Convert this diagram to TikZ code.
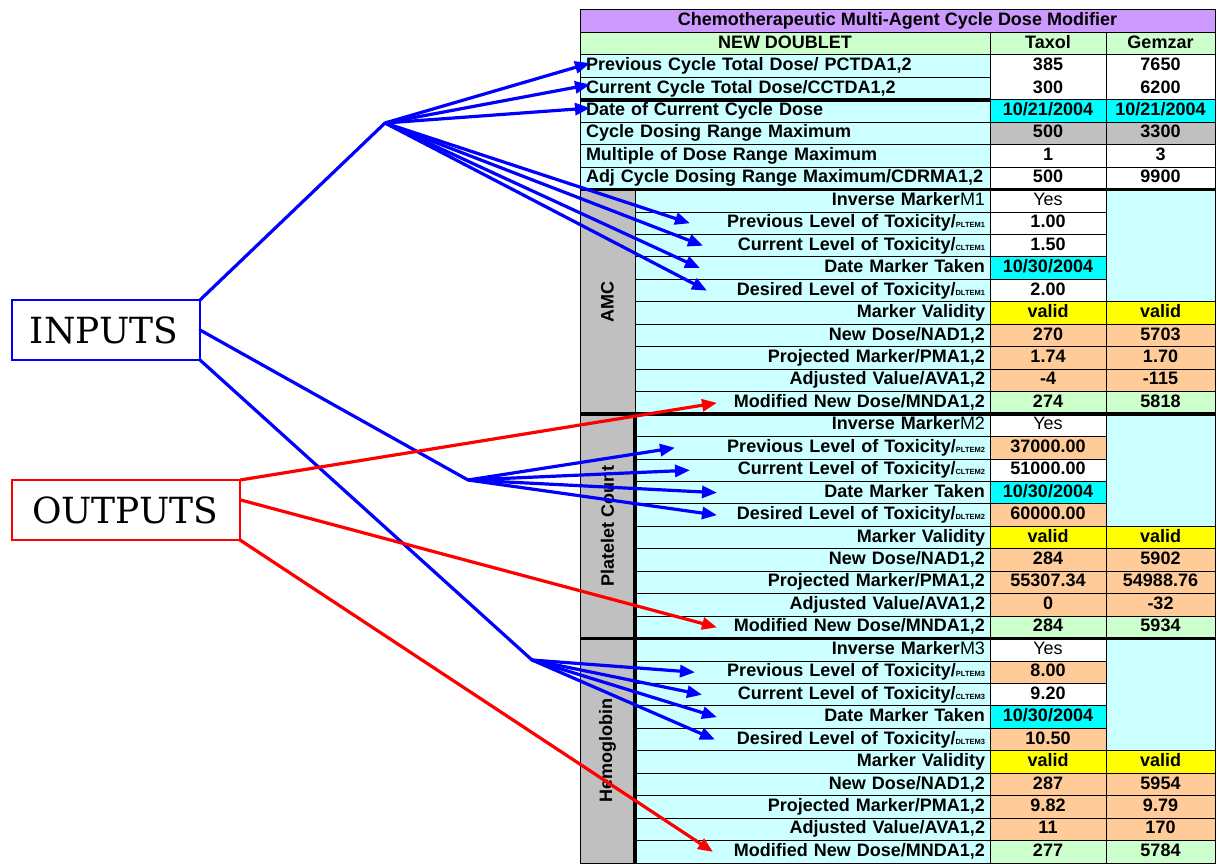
\documentclass[tikz,border=0pt]{standalone}
\usepackage{fontspec}
\newfontfamily\tabfam{Liberation Sans}
\newfontfamily\boxfam{DejaVu Serif}
\usetikzlibrary{positioning,arrows.meta,calc}
\definecolor{ttlpurple}{RGB}{204,153,255}
\definecolor{hdgreen}{RGB}{204,255,204}
\definecolor{lcyan}{RGB}{204,255,255}
\definecolor{dcyan}{RGB}{0,255,255}
\definecolor{cgrey}{RGB}{192,192,192}
\definecolor{peach}{RGB}{255,204,153}
\definecolor{vyellow}{RGB}{255,255,0}
\definecolor{inblue}{RGB}{0,0,255}
\definecolor{outred}{RGB}{255,0,0}
\newcommand{\tabbf}{\tabfam\bfseries\fontsize{18}{20}\selectfont}
\newcommand{\tabrg}{\tabfam\mdseries\fontsize{18}{20}\selectfont}
\newcommand{\subtag}[1]{{\tabfam\bfseries\fontsize{7.5}{7.5}\selectfont #1}}
\tikzset{
  cell/.style={draw=black,line width=1pt,inner sep=0pt,outer sep=0pt,anchor=north west,
               minimum height=22.45pt,text height=13pt,text depth=4pt,font=\tabbf},
  ulab/.style={cell,fill=lcyan,inner xsep=6pt,text width=398pt,align=left},
  slab/.style={cell,fill=lcyan,inner xsep=5pt,text width=345pt,align=right},
  txc/.style={cell,minimum width=116pt},
  gzc/.style={cell,minimum width=109pt},
  valtxt/.style={inner sep=0pt,text height=13pt,text depth=4pt,font=\tabbf},
  thk/.style={line width=3.5pt},
  iobox/.style={line width=2pt,anchor=north west,outer sep=0pt,minimum height=60pt,
                align=left,font=\boxfam\fontsize{36}{40}\selectfont},
  inln/.style={line width=3.2pt,draw=inblue,line cap=round},
  inarr/.style={-{Triangle[length=15pt,width=12pt]},line width=3.2pt,draw=inblue},
  outarr/.style={-{Triangle[length=15pt,width=12pt]},line width=3.2pt,draw=outred}
}
\begin{document}
\begin{tikzpicture}[x=1pt,y=-1pt]
\useasboundingbox (0,0) rectangle (1219,864);

\begin{scope}[yshift=-10pt,y=-22.45pt]
\node[cell,fill=ttlpurple,minimum width=635pt] (ttl) at (580,0) {Chemotherapeutic Multi-Agent Cycle Dose Modifier};
\node[cell,fill=hdgreen,minimum width=410pt] (hnd) at (580,1) {NEW DOUBLET};
\node[txc,fill=hdgreen] (htx) at (990,1) {Taxol};
\node[gzc,fill=hdgreen] (hgz) at (1106,1) {Gemzar};

\node[ulab] (pcd) at (580,2) {Previous Cycle Total Dose/ PCTDA1,2};
\node[ulab] (ccd) at (580,3) {Current Cycle Total Dose/CCTDA1,2};
\node[ulab] (dcd) at (580,4) {Date of Current Cycle Dose};
\node[ulab] (crm) at (580,5) {Cycle Dosing Range Maximum};
\node[ulab] (mrm) at (580,6) {Multiple of Dose Range Maximum};
\node[ulab] (arm) at (580,7) {Adj Cycle Dosing Range Maximum/CDRMA1,2};

\node[txc,fill=white,minimum height=44.9pt] (tot-t) at (990,2) {};
\node[gzc,fill=white,minimum height=44.9pt] (tot-g) at (1106,2) {};
\node[valtxt] (pcd-t) at (1048,2.5) {385};
\node[valtxt] (pcd-g) at (1160.5,2.5) {7650};
\node[valtxt] (ccd-t) at (1048,3.5) {300};
\node[valtxt] (ccd-g) at (1160.5,3.5) {6200};
\node[txc,fill=dcyan] (dcd-t) at (990,4) {10/21/2004};
\node[gzc,fill=dcyan] (dcd-g) at (1106,4) {10/21/2004};
\node[txc,fill=cgrey] (crm-t) at (990,5) {500};
\node[gzc,fill=cgrey] (crm-g) at (1106,5) {3300};
\node[txc,fill=white] (mrm-t) at (990,6) {1};
\node[gzc,fill=white] (mrm-g) at (1106,6) {3};
\node[txc,fill=white] (arm-t) at (990,7) {500};
\node[gzc,fill=white] (arm-g) at (1106,7) {9900};

\foreach \k/\s/\nm/\pv/\pc/\cv/\dv/\dc/\na/\nb/\pa/\pb/\aa/\ab/\ma/\mb in {
  1/8/AMC/1.00/white/1.50/2.00/white/270/5703/1.74/1.70/-4/-115/274/5818,
  2/18/Platelet Count/37000.00/peach/51000.00/60000.00/peach/284/5902/55307.34/54988.76/0/-32/284/5934,
  3/28/Hemoglobin/8.00/peach/9.20/10.50/peach/287/5954/9.82/9.79/11/170/277/5784}{
  \node[cell,fill=cgrey,minimum width=55pt,minimum height=224.5pt] (sc\k) at (580,\s) {};
  \node[font=\tabbf,rotate=90] (sn\k) at (607.5,\s+5) {\nm};
  \node[slab] (inv\k) at (635,\s) {Inverse Marker{\tabrg M\k}};
  \node[slab] (prv\k) at (635,\s+1) {Previous Level of Toxicity/\subtag{PLTEM\k}};
  \node[slab] (cur\k) at (635,\s+2) {Current Level of Toxicity/\subtag{CLTEM\k}};
  \node[slab] (dat\k) at (635,\s+3) {Date Marker Taken};
  \node[slab] (des\k) at (635,\s+4) {Desired Level of Toxicity/\subtag{DLTEM\k}};
  \node[slab] (val\k) at (635,\s+5) {Marker Validity};
  \node[slab] (nd\k) at (635,\s+6) {New Dose/NAD1,2};
  \node[slab] (pm\k) at (635,\s+7) {Projected Marker/PMA1,2};
  \node[slab] (av\k) at (635,\s+8) {Adjusted Value/AVA1,2};
  \node[slab] (mnd\k) at (635,\s+9) {Modified New Dose/MNDA1,2};
  \node[txc,fill=white] (inv\k-t) at (990,\s) {\tabrg Yes};
  \node[txc,fill=\pc] (prv\k-t) at (990,\s+1) {\pv};
  \node[txc,fill=white] (cur\k-t) at (990,\s+2) {\cv};
  \node[txc,fill=dcyan] (dat\k-t) at (990,\s+3) {10/30/2004};
  \node[txc,fill=\dc] (des\k-t) at (990,\s+4) {\dv};
  \node[txc,fill=vyellow] (val\k-t) at (990,\s+5) {valid};
  \node[txc,fill=peach] (nd\k-t) at (990,\s+6) {\na};
  \node[txc,fill=peach] (pm\k-t) at (990,\s+7) {\pa};
  \node[txc,fill=peach] (av\k-t) at (990,\s+8) {\aa};
  \node[txc,fill=hdgreen] (mnd\k-t) at (990,\s+9) {\ma};
  \node[gzc,fill=lcyan,minimum height=112.25pt] (inv\k-g) at (1106,\s) {};
  \node[gzc,fill=vyellow] (val\k-g) at (1106,\s+5) {valid};
  \node[gzc,fill=peach] (nd\k-g) at (1106,\s+6) {\nb};
  \node[gzc,fill=peach] (pm\k-g) at (1106,\s+7) {\pb};
  \node[gzc,fill=peach] (av\k-g) at (1106,\s+8) {\ab};
  \node[gzc,fill=hdgreen] (mnd\k-g) at (1106,\s+9) {\mb};
}

\draw[thk] (dcd.north west) -- (dcd.north east);
\draw[thk] (sc1.north west) -- (inv1-g.north east);
\draw[thk] (sc2.north west) -- (inv2-g.north east);
\draw[thk] (sc3.north west) -- (inv3-g.north east);
\draw[thk] (sc2.north east) -- (sc3.south east);
\end{scope}

\node[iobox,draw=inblue,inner xsep=18pt,text width=152pt] (inbox) at (12,300) {INPUTS};
\node[iobox,draw=outred,inner xsep=20pt,text width=188pt] (outbox) at (12,480) {OUTPUTS};

\coordinate (hub1) at (385,123);
\coordinate (hub2) at (468,480);
\coordinate (hub3) at (532,660);

\draw[inln] (inbox.north east) -- (hub1);
\draw[inln] (inbox.east) -- (hub2);
\draw[inln] (inbox.south east) -- (hub3);

\draw[inarr] (hub1) -- ([xshift=10pt,yshift=3pt]pcd.west);
\draw[inarr] (hub1) -- ([xshift=10pt,yshift=4pt]ccd.west);
\draw[inarr] (hub1) -- ([xshift=10pt,yshift=3pt]dcd.west);
\draw[inarr] (hub1) -- ([xshift=55pt]prv1.west);
\draw[inarr] (hub1) -- ([xshift=68pt]cur1.west);
\draw[inarr] (hub1) -- ([xshift=65pt]dat1.west);
\draw[inarr] (hub1) -- ([xshift=72pt]des1.west);

\draw[inarr] (hub2) -- ([xshift=40pt]prv2.west);
\draw[inarr] (hub2) -- ([xshift=55pt]cur2.west);
\draw[inarr] (hub2) -- ([xshift=82pt]dat2.west);
\draw[inarr] (hub2) -- ([xshift=82pt]des2.west);

\draw[inarr] (hub3) -- ([xshift=60pt]prv3.west);
\draw[inarr] (hub3) -- ([xshift=67pt]cur3.west);
\draw[inarr] (hub3) -- ([xshift=82pt]dat3.west);
\draw[inarr] (hub3) -- ([xshift=80pt]des3.west);

\draw[outarr] (outbox.north east) -- ([xshift=82pt]mnd1.west);
\draw[outarr] ($(outbox.north east)!0.33!(outbox.south east)$) -- ([xshift=82pt]mnd2.west);
\draw[outarr] (outbox.south east) -- ([xshift=78pt]mnd3.west);
\end{tikzpicture}
\end{document}
